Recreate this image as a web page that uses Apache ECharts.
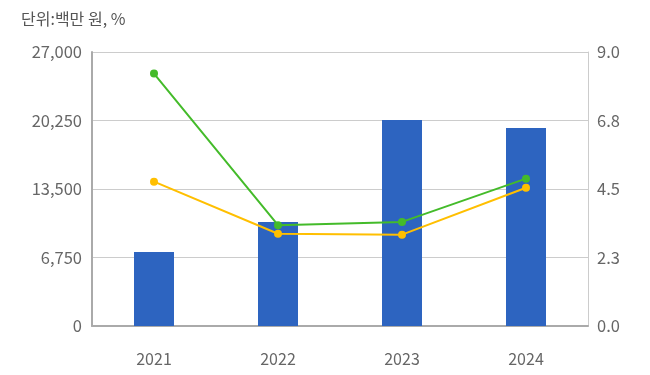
<!DOCTYPE html>
<html>
<head>
<meta charset="utf-8">
<script src="https://cdn.jsdelivr.net/npm/echarts@6/dist/echarts.min.js"></script>
<style>html,body{margin:0;padding:0;background:#fff;}#c{width:650px;height:375px;}</style>
</head>
<body>
<div id="c"></div>
<script>
const categories = ['2021', '2022', '2023', '2024'];
const barValues = [7290, 10250, 20300, 19510];
const greenValues = [8.29, 3.31, 3.42, 4.84];
const yellowValues = [4.74, 3.03, 3.0, 4.54];
const leftTicks = ['0', '6,750', '13,500', '20,250', '27,000'];
const rightTicks = ['0.0', '2.3', '4.5', '6.8', '9.0'];

const font = '"Noto Sans CJK KR", "Noto Sans", sans-serif';
const chart = echarts.init(document.getElementById('c'), null, {renderer: 'canvas'});
chart.setOption({
  animation: false,
  textStyle: {fontFamily: font},
  title: {
    text: '단위:백만 원, %',
    left: 16, top: 6,
    textStyle: {fontSize: 16, fontWeight: 'normal', color: '#555', fontFamily: font}
  },
  grid: {left: 92, right: 62, top: 52, bottom: 49},
  xAxis: {
    type: 'category',
    data: categories,
    axisLine: {lineStyle: {color: '#aaa', width: 2}},
    axisTick: {show: false},
    axisLabel: {color: '#666', fontSize: 16, margin: 25, fontFamily: font}
  },
  yAxis: [
    {
      type: 'value', min: 0, max: 27000, interval: 6750,
      axisLine: {show: true, lineStyle: {color: '#aaa', width: 2}},
      axisTick: {show: false},
      splitLine: {lineStyle: {color: '#ccc', width: 1}},
      axisLabel: {color: '#666', fontSize: 16.5, margin: 10, fontFamily: font,
        formatter: (v) => leftTicks[Math.round(v / 6750)]}
    },
    {
      type: 'value', min: 0, max: 9, interval: 2.25,
      axisLine: {show: true, lineStyle: {color: '#ccc', width: 1}},
      axisTick: {show: false},
      splitLine: {show: false},
      axisLabel: {color: '#666', fontSize: 16.5, margin: 9, fontFamily: font,
        formatter: (v) => rightTicks[Math.round(v / 2.25)]}
    }
  ],
  series: [
    {
      type: 'bar', data: barValues, barWidth: 40, yAxisIndex: 0,
      itemStyle: {color: '#2d64c0'}
    },
    {
      type: 'line', data: greenValues, yAxisIndex: 1,
      symbol: 'circle', symbolSize: 8,
      lineStyle: {color: '#44bb2a', width: 2},
      itemStyle: {color: '#44bb2a'}
    },
    {
      type: 'line', data: yellowValues, yAxisIndex: 1,
      symbol: 'circle', symbolSize: 8,
      lineStyle: {color: '#ffbf00', width: 2},
      itemStyle: {color: '#ffbf00'}
    }
  ]
});
</script>
</body>
</html>
